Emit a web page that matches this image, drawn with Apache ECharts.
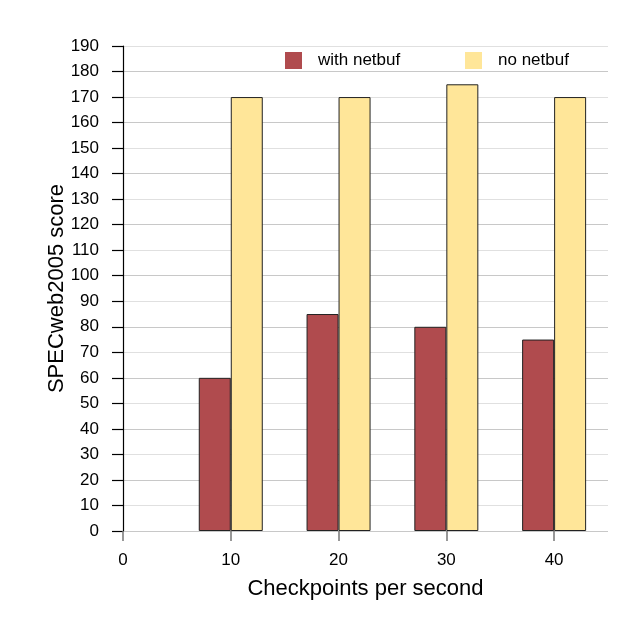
<!DOCTYPE html>
<html><head><meta charset="utf-8">
<script src="https://cdn.jsdelivr.net/npm/echarts@6/dist/echarts.min.js"></script>
<style>html,body{margin:0;padding:0;background:#fff}#c{width:640px;height:628px}</style>
</head><body><div id="c"></div>
<script>
var checkpoints = [10, 20, 30, 40];
var withNetbuf = [60, 85, 80, 75];
var noNetbuf = [170, 170, 175, 170];
var seriesNames = ['with netbuf', 'no netbuf'];
var xTicks = [0, 10, 20, 30, 40];

var font = '"Liberation Sans", Arial, Helvetica, sans-serif';
var chart = echarts.init(document.getElementById('c'));
chart.setOption({
  animation: false,
  backgroundColor: '#fff',
  grid: {left: 123, right: 32, top: 46, bottom: 97},
  legend: [
    {left: 285, top: 52, padding: 0, itemWidth: 17, itemHeight: 17, data: [seriesNames[0]],
     textStyle: {fontFamily: font, fontSize: 17, color: '#000', padding: [0,0,0,11]},
     itemStyle: {borderWidth: 0}, icon: 'rect'},
    {left: 465, top: 52, padding: 0, itemWidth: 17, itemHeight: 17, data: [seriesNames[1]],
     textStyle: {fontFamily: font, fontSize: 17, color: '#000', padding: [0,0,0,11]},
     itemStyle: {borderWidth: 0}, icon: 'rect'}
  ],
  xAxis: {
    type: 'value', min: 0, max: 45,
    name: 'Checkpoints per second', nameLocation: 'middle', nameGap: 47,
    nameMoveOverlap: false,
    nameTextStyle: {fontFamily: font, fontSize: 22, color: '#000'},
    axisLine: {show: false},
    axisTick: {show: true, length: 10, customValues: xTicks, lineStyle: {color: '#777', width: 1.5}},
    axisLabel: {fontFamily: font, fontSize: 17, color: '#000', margin: 21, customValues: xTicks},
    splitLine: {show: false}
  },
  yAxis: {
    type: 'value', min: 0, max: 190, interval: 10,
    name: 'SPECweb2005 score', nameLocation: 'middle', nameGap: 55, nameRotate: 90,
    nameMoveOverlap: false,
    nameTextStyle: {fontFamily: font, fontSize: 22, color: '#000'},
    axisLine: {show: true, lineStyle: {color: '#000', width: 1.2}},
    axisTick: {show: true, length: 11, lineStyle: {color: '#000', width: 1.2}},
    axisLabel: {fontFamily: font, fontSize: 17, color: '#000', margin: 24},
    splitLine: {show: true, lineStyle: {color: ['#c8c8c8', '#e0e0e0'], width: 1}}
  },
  series: [
    {name: seriesNames[0], type: 'bar', barWidth: 32, barGap: '0%',
     data: checkpoints.map(function (c, i) { return [c, withNetbuf[i]]; }),
     itemStyle: {color: '#b04b4e', borderColor: '#222', borderWidth: 1}},
    {name: seriesNames[1], type: 'bar', barWidth: 32, barGap: '0%',
     data: checkpoints.map(function (c, i) { return [c, noNetbuf[i]]; }),
     itemStyle: {color: '#ffe699', borderColor: '#222', borderWidth: 1}}
  ]
});
</script></body></html>
